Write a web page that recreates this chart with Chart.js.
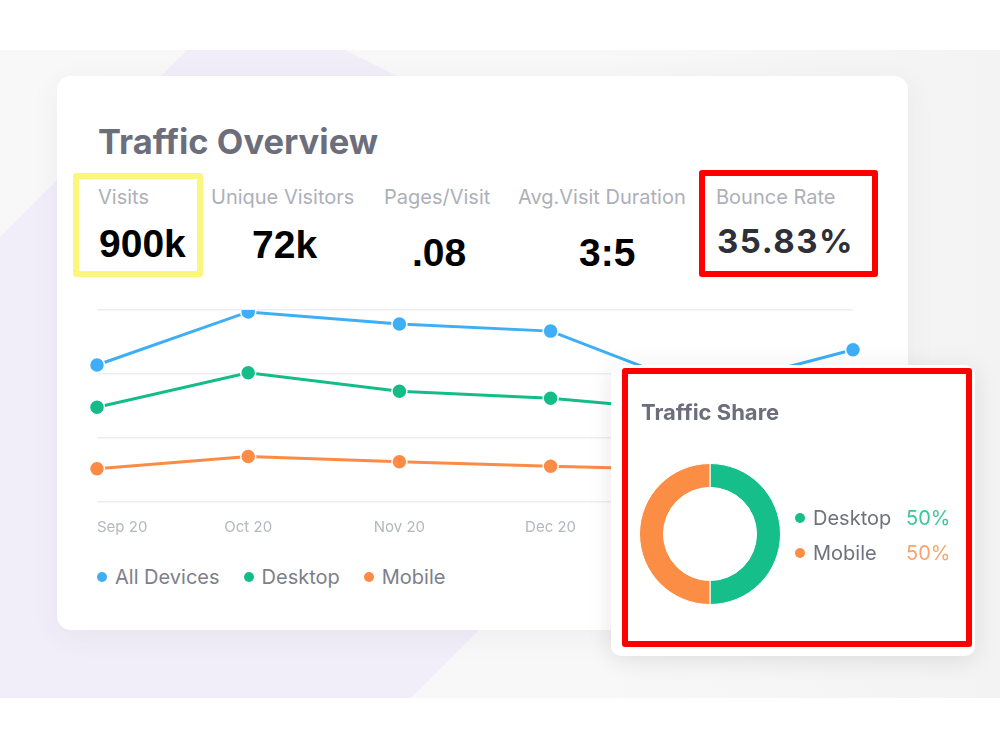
<!DOCTYPE html>
<html>
<head>
<meta charset="utf-8">
<script src="https://cdn.jsdelivr.net/npm/chart.js@4.4.1/dist/chart.umd.min.js"></script>
<style>
    html, body { margin: 0; padding: 0; }
    body { width: 1000px; height: 750px; position: relative; overflow: hidden; background: #fff; font-family: Inter, "Noto Sans", sans-serif; }
    .abs { position: absolute; line-height: 1; white-space: nowrap; }
    #bg { position: absolute; left: 0; top: 0; }
    .card { position: absolute; background: #fff; }
    #mainCard { left: 57px; top: 76px; width: 851px; height: 554px; border-radius: 14px; box-shadow: 0 6px 30px rgba(60, 60, 90, 0.06); }
    #shareCard { left: 611px; top: 365px; width: 364px; height: 291px; border-radius: 10px; box-shadow: 0 4px 24px rgba(0, 0, 0, 0.10); z-index: 5; }
    .title { font-weight: 700; color: #6c6f7b; }
    .label { font-size: 20px; color: #adb0b8; }
    .value { font-family: "Liberation Sans", Arial, sans-serif; font-size: 39px; font-weight: 700; color: #000; }
    .box { position: absolute; box-sizing: border-box; border-radius: 3px; }
    #lineChart { position: absolute; left: 60px; top: 290px; z-index: 2; }
    #lineLegend { position: absolute; left: 97px; top: 565px; display: flex; z-index: 2; }
    .item { display: flex; align-items: center; font-size: 20px; color: #7d808a; margin-right: 24px; }
    .dot { width: 10px; height: 10px; border-radius: 50%; margin-right: 8px; }
    #shareChart { position: absolute; left: 28px; top: 98px; }
    .shareRow { position: absolute; left: 184px; display: flex; align-items: center; font-size: 20px; color: #6f727c; }
    .shareRow .pct { position: absolute; left: 111px; }
</style>
</head>
<body>
<svg id="bg" width="1000" height="750">
    <defs>
        <linearGradient id="band" x1="0" y1="0" x2="1" y2="0">
            <stop offset="0" stop-color="#f8f8f9"/>
            <stop offset="0.6" stop-color="#f8f8f9"/>
            <stop offset="1" stop-color="#f3f3f4"/>
        </linearGradient>
    </defs>
    <rect x="0" y="50" width="1000" height="648" fill="url(#band)"/>
    <polygon points="0,237 187,50 345,50 821,288 411,698 0,698" fill="#f1edf9"/>
</svg>

<div class="card" id="mainCard"></div>

<div class="abs title" style="left:98px; top:125px; font-size:34.5px;">Traffic Overview</div>

<div class="abs label" style="left:98px; top:187px;">Visits</div>
<div class="abs label" style="left:211px; top:187px;">Unique Visitors</div>
<div class="abs label" style="left:384px; top:187px;">Pages/Visit</div>
<div class="abs label" style="left:518px; top:187px;">Avg.Visit Duration</div>
<div class="abs label" style="left:716px; top:187px;">Bounce Rate</div>

<div class="abs value" style="left:99px; top:224px;">900k</div>
<div class="abs value" style="left:252px; top:225px;">72k</div>
<div class="abs value" style="left:412px; top:233px;">.08</div>
<div class="abs value" style="left:579px; top:233px;">3:5</div>
<div class="abs value" style="left:717px; top:225px; font-family:Inter, sans-serif; font-size:33px; color:#2d3038; letter-spacing:1.5px;">35.83%</div>

<div class="box" style="left:73px; top:173px; width:130px; height:104px; border:6px solid #fbf77c;"></div>
<div class="box" style="left:699px; top:170px; width:179px; height:107px; border:6px solid #ff0000;"></div>

<canvas id="lineChart" width="820" height="271"></canvas>
<div id="lineLegend"></div>

<div class="card" id="shareCard">
    <div class="box" style="left:11px; top:3px; width:350px; height:279px; border:6px solid #ff0000;"></div>
    <div class="abs title" style="left:30px; top:36px; font-size:22px;">Traffic Share</div>
    <canvas id="shareChart" width="142" height="142"></canvas>
    <div id="shareLegend"></div>
</div>

<script>
    var months = ['Sep 20', 'Oct 20', 'Nov 20', 'Dec 20', 'Jan 21', 'Feb 21'];
    var allDevices = [214, 297, 278, 267, 176, 238];
    var desktop = [148, 202, 173, 162, 141, 160];
    var mobile = [52, 71, 63, 56, 50, 60];

    var seriesNames = ['All Devices', 'Desktop', 'Mobile'];
    var seriesColors = ['#3eaef6', '#14bc88', '#fb8b45'];

    var shareLabels = ['Desktop', 'Mobile'];
    var shareValues = [50, 50];
    var shareColors = ['#16be8a', '#fb8d45'];
    var sharePctColors = ['#3cc79a', '#f9a46c'];

    function lineSet(name, values, color) {
        return {
            label: name,
            data: values,
            borderColor: color,
            backgroundColor: color,
            pointBackgroundColor: color,
            pointBorderColor: '#ffffff',
            pointBorderWidth: 1.5,
            pointRadius: 7.5,
            borderWidth: 3,
            tension: 0
        };
    }

    var lineChart = new Chart(document.getElementById('lineChart'), {
        type: 'line',
        data: {
            labels: months,
            datasets: [
                lineSet(seriesNames[0], allDevices, seriesColors[0]),
                lineSet(seriesNames[1], desktop, seriesColors[1]),
                lineSet(seriesNames[2], mobile, seriesColors[2])
            ]
        },
        options: {
            responsive: false,
            animation: false,
            layout: { padding: { left: 37, right: 27, top: 20, bottom: 17 } },
            plugins: { legend: { display: false }, tooltip: { enabled: false } },
            scales: {
                x: {
                    grid: { display: false },
                    border: { display: false },
                    ticks: { align: 'inner', padding: 8, color: '#b4b7bf', font: { family: 'Inter', size: 15 } }
                },
                y: {
                    min: 0,
                    max: 300,
                    ticks: { display: false, stepSize: 100 },
                    grid: { color: '#ededf2', lineWidth: 1.5, drawTicks: false },
                    border: { display: false }
                }
            }
        }
    });

    // legend under the line chart
    var legend = document.getElementById('lineLegend');
    for (var i = 0; i < seriesNames.length; i++) {
        legend.innerHTML += '<div class="item"><span class="dot" style="background:' + seriesColors[i] + '"></span>' + seriesNames[i] + '</div>';
    }

    var shareChart = new Chart(document.getElementById('shareChart'), {
        type: 'doughnut',
        data: {
            labels: shareLabels,
            datasets: [{ data: shareValues, backgroundColor: shareColors, borderColor: '#ffffff', borderWidth: 1 }]
        },
        options: {
            responsive: false,
            animation: false,
            cutout: '66%',
            plugins: { legend: { display: false }, tooltip: { enabled: false } }
        }
    });

    var shareLegend = document.getElementById('shareLegend');
    for (var j = 0; j < shareLabels.length; j++) {
        shareLegend.innerHTML += '<div class="shareRow" style="top:' + (141 + j * 35) + 'px"><span class="dot" style="background:' + shareColors[j] + '"></span>' +
            shareLabels[j] + '<span class="pct" style="color:' + sharePctColors[j] + '">' + shareValues[j] + '%</span></div>';
    }
</script>
</body>
</html>
